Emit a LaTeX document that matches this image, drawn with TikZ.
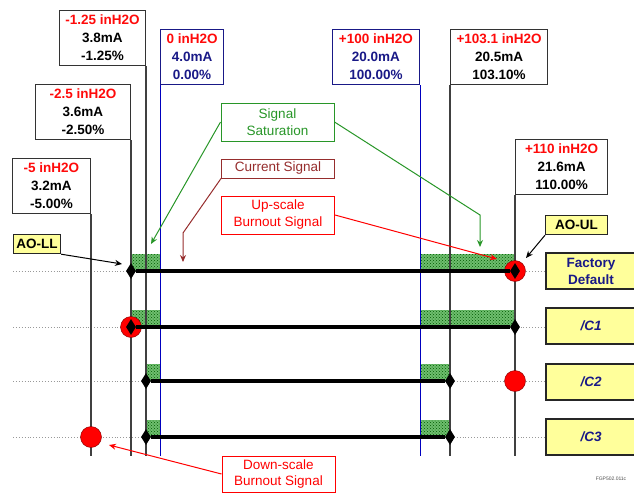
\documentclass[tikz,border=0pt]{standalone}
\usepackage{fontspec}
\setmainfont{Liberation Sans}
\usetikzlibrary{arrows.meta, positioning, shapes.geometric, patterns}

\definecolor{valred}{RGB}{255,10,10}
\definecolor{navy}{RGB}{25,25,135}
\definecolor{satgreen}{RGB}{40,150,40}
\definecolor{curred}{RGB}{150,45,45}
\definecolor{hatchgreen}{RGB}{110,190,110}
\definecolor{cfgyellow}{RGB}{255,255,155}

\tikzset{
  valbox/.style={draw=black!80, line width=1.2pt, fill=white, align=center,
    font=\fontsize{13.5}{18}\selectfont\bfseries, minimum height=55, inner sep=0pt},
  zerobox/.style={valbox, draw=navy, text=navy},
  callout/.style={draw, line width=1pt, fill=white, align=center,
    font=\fontsize{13.5}{17}\selectfont, minimum width=113, inner sep=0pt},
  tagbox/.style={draw=black!85, line width=1.2pt, fill=cfgyellow, align=center,
    font=\fontsize{13.5}{17}\selectfont\bfseries, inner sep=0pt},
  cfgbox/.style={tagbox, text=navy, minimum width=90, minimum height=36},
  guide/.style={black!75, line width=1.2pt},
  spanline/.style={blue!75!black, line width=0.9pt},
  rowline/.style={gray!80, dotted, line width=0.9pt},
  sigline/.style={black, line width=3.2pt},
  endpt/.style={diamond, fill=black, minimum width=10, minimum height=16, inner sep=0pt},
  burn/.style={circle, fill=red, draw=red!50!black, line width=0.4pt, minimum size=21, inner sep=0pt},
  satfill/.style={fill=hatchgreen, postaction={pattern=crosshatch dots, pattern color=green!35!black}},
}

\begin{document}
\begin{tikzpicture}[x=1pt, y=-1pt, >={Stealth[length=7pt, width=6pt]}]
  \useasboundingbox (0,0) rectangle (634,493);
  \clip (0,0) rectangle (634,493);
  \coordinate (base) at (0,456);

  % Saturation zones
  \fill[satfill] (131,254) rectangle (160,271);
  \fill[satfill] (420,254) rectangle (515,271);
  \fill[satfill] (131,310) rectangle (160,327);
  \fill[satfill] (420,310) rectangle (515,327);
  \fill[satfill] (146,364) rectangle (160,381);
  \fill[satfill] (420,364) rectangle (450,381);
  \fill[satfill] (146,420) rectangle (160,437);
  \fill[satfill] (420,420) rectangle (450,437);

  % Configuration rows
  \node[cfgbox] (fd) at (591,271) {Factory\\Default};
  \node[cfgbox, font=\fontsize{13.5}{17}\selectfont\bfseries\itshape] (c1) at (591,326) {/C1};
  \node[cfgbox, font=\fontsize{13.5}{17}\selectfont\bfseries\itshape] (c2) at (591,382) {/C2};
  \node[cfgbox, font=\fontsize{13.5}{17}\selectfont\bfseries\itshape] (c3) at (591,437) {/C3};
  \coordinate (fdS) at (13,271);
  \coordinate (c1S) at (13,327);
  \coordinate (c2S) at (13,381);
  \coordinate (c3S) at (13,437);
  \draw[rowline] (fdS) -- (fdS -| fd.west);
  \draw[rowline] (c1S) -- (c1S -| c1.west);
  \draw[rowline] (c2S) -- (c2S -| c2.west);
  \draw[rowline] (c3S) -- (c3S -| c3.west);

  % Range values
  \node[valbox, minimum width=78, anchor=north east] (m5) at (91,158)
    {\textcolor{valred}{-5 inH2O}\\3.2mA\\-5.00\%};
  \node[valbox, minimum width=95, anchor=north east] (m25) at (131,84)
    {\textcolor{valred}{-2.5 inH2O}\\3.6mA\\-2.50\%};
  \node[valbox, minimum width=86, anchor=north east] (m125) at (146,10)
    {\textcolor{valred}{-1.25 inH2O}\\3.8mA\\-1.25\%};
  \node[zerobox, minimum width=63, anchor=north west] (z0) at (160,29)
    {\textcolor{valred}{0 inH2O}\\4.0mA\\0.00\%};
  \node[zerobox, minimum width=87, anchor=north east] (p100) at (420,29)
    {\textcolor{valred}{+100 inH2O}\\20.0mA\\100.00\%};
  \node[valbox, minimum width=97, anchor=north west] (p1031) at (450,29)
    {\textcolor{valred}{+103.1 inH2O}\\20.5mA\\103.10\%};
  \node[valbox, minimum width=92, anchor=north west] (p110) at (515,139)
    {\textcolor{valred}{+110 inH2O}\\21.6mA\\110.00\%};

  \draw[guide] (m5.south east) -- (m5.south east |- base);
  \draw[guide] (m25.south east) -- (m25.south east |- base);
  \draw[guide] (m125.south east) -- (m125.south east |- base);
  \draw[spanline] (z0.south west) -- (z0.south west |- base);
  \draw[spanline] (p100.south east) -- (p100.south east |- base);
  \draw[guide] (p1031.south west) -- (p1031.south west |- base);
  \draw[guide] (p110.south west) -- (p110.south west |- base);

  % Signal ranges
  \node[burn] (fdB) at (515,271) {};
  \node[burn] (c1B) at (131,327) {};
  \node[burn] (c2B) at (515,381) {};
  \node[burn] (c3B) at (91,437) {};
  \node[endpt] (fdL) at (131,271) {};
  \node[endpt] (fdR) at (515,271) {};
  \node[endpt] (c1L) at (131,327) {};
  \node[endpt] (c1R) at (515,327) {};
  \node[endpt] (c2L) at (146,381) {};
  \node[endpt] (c2R) at (450,381) {};
  \node[endpt] (c3L) at (146,437) {};
  \node[endpt] (c3R) at (450,437) {};
  \draw[sigline] (fdL) -- (fdR);
  \draw[sigline] (c1L) -- (c1R);
  \draw[sigline] (c2L) -- (c2R);
  \draw[sigline] (c3L) -- (c3R);

  % Alarm limits
  \node[tagbox, minimum width=47, minimum height=19, anchor=north west] (aoll) at (13,234) {AO-LL};
  \node[tagbox, minimum width=62, minimum height=19, anchor=north west] (aoul) at (545,215) {AO-UL};
  \coordinate (aollT) at (122,264);
  \coordinate (aoulT) at (526,258);
  \draw[->, line width=1pt] (aoll.south east) -- (aollT);
  \draw[->, line width=1pt] (aoul.south west) -- (aoulT);

  % Callouts
  \node[callout, draw=satgreen, text=satgreen, minimum height=38] (sat) at (277.5,122) {Signal\\Saturation};
  \node[callout, draw=curred, text=curred, minimum height=19] (cur) at (278,168.5) {Current Signal};
  \node[callout, draw=red, text=red, minimum height=38] (up) at (278,215) {Up-scale\\Burnout Signal};
  \node[callout, draw=red, text=red, minimum height=36] (down) at (278.5,474) {Down-scale\\Burnout Signal};

  \coordinate (satL) at (151,244);
  \coordinate (satK) at (480,215);
  \coordinate (satR) at (480,247);
  \coordinate (curK) at (183,233);
  \coordinate (curT) at (183,262);
  \coordinate (upT) at (497,259);
  \coordinate (downT) at (109,445);
  \draw[->, satgreen, line width=1pt] (sat.west) -- (satL);
  \draw[->, satgreen, line width=1pt] (sat.east) -- (satK) -- (satR);
  \draw[->, curred, line width=1pt] (cur.south west) -- (curK) -- (curT);
  \draw[->, red, line width=1pt] (up.east) -- (upT);
  \draw[->, red, line width=1pt] (down.west) -- (downT);

  \node[font=\fontsize{5}{6}\selectfont, text=black!70] (fig) at (611,479) {FGP502.011c};
\end{tikzpicture}
\end{document}
